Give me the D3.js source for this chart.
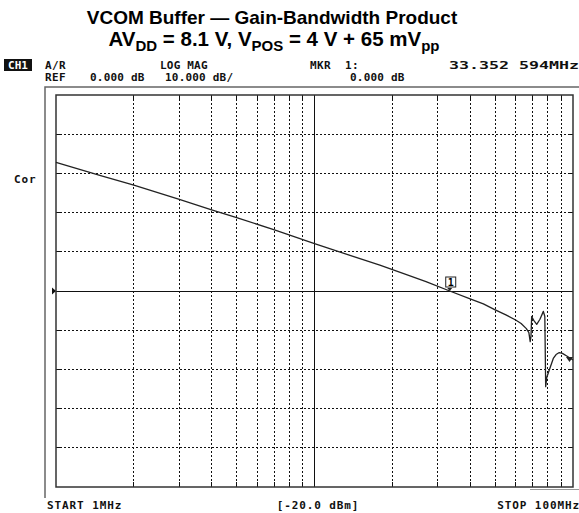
<!DOCTYPE html>
<html>
<head>
<meta charset="utf-8">
<script src="https://cdn.jsdelivr.net/npm/d3@7"></script>
<style>
  html, body { margin: 0; padding: 0; background: #fff; }
  svg { display: block; }
</style>
</head>
<body>
<svg id="chart" width="579" height="513"></svg>
<script>
// Frequency sweep of the VCOM buffer, 1 MHz to 100 MHz (log), gain in dB
const freqMHz = [1, 1.5, 2, 3, 4, 5, 7, 10, 14, 17.9, 22, 27, 33.35, 40, 45, 50, 55, 60, 63, 66, 67.5,
                 68.3, 68.8, 69.2, 70.5, 72.4, 74.5, 76.8, 77.8, 78.4, 79.2, 80.9, 83.9, 86, 88.5, 91, 94.6, 100];
const gainDb  = [32.8, 29.4, 27.0, 23.4, 20.7, 18.7, 15.6, 12.1, 8.9, 6.6, 4.5, 2.4, 0, -2.0, -3.3, -4.8, -6.1, -7.4, -8.3, -9.6, -10.6,
                 -12.9, -11.5, -6.5, -7.5, -8.5, -7.2, -5.2, -6.5, -24.4, -22, -20.2, -17.2, -16.2, -15.7, -15.9, -16.6, -17.6];

const xTickMHz = [2, 3, 4, 5, 6, 7, 8, 9, 10, 20, 30, 40, 50, 60, 70, 80, 90];
const yTickDb = [-40, -30, -20, -10, 0, 10, 20, 30, 40];
const markerMHz = 33.352594;
const markerDb = 0;

const svg = d3.select("#chart");
const L = 56, R = 573, T = 95, B = 487;

const x = d3.scaleLog().domain([1, 100]).range([L, R]);
const y = d3.scaleLinear().domain([-50, 50]).range([B, T]);

// Titles
svg.append("text")
  .attr("x", 272).attr("y", 24)
  .attr("text-anchor", "middle")
  .attr("font-family", "Liberation Sans, Arial, sans-serif")
  .attr("font-weight", "bold").attr("font-size", 19)
  .text("VCOM Buffer \u2014 Gain-Bandwidth Product");

const sub = svg.append("text")
  .attr("x", 274).attr("y", 46)
  .attr("text-anchor", "middle")
  .attr("font-family", "Liberation Sans, Arial, sans-serif")
  .attr("font-weight", "bold").attr("font-size", 20.5);
const subParts = [["AV", 0], ["DD", 1], [" = 8.1 V, V", 0], ["POS", 1], [" = 4 V + 65 mV", 0], ["pp", 1]];
let lastSub = false;
subParts.forEach(([t, s]) => {
  let dy = 0;
  if (s && !lastSub) dy = 5;
  if (!s && lastSub) dy = -5;
  sub.append("tspan")
    .attr("font-size", s ? 15 : 20.5)
    .attr("dy", dy)
    .text(t);
  lastSub = !!s;
});

// Instrument annotation text
const mono = "DejaVu Sans Mono, monospace";
function label(tx, px, py, anchor, spacing) {
  return svg.append("text").attr("x", px).attr("y", py)
    .attr("text-anchor", anchor || "start")
    .attr("font-family", mono).attr("font-weight", "bold")
    .attr("font-size", 11).attr("letter-spacing", spacing == null ? 0.9 : spacing)
    .attr("fill", "#111").text(tx);
}
svg.append("rect").attr("x", 4).attr("y", 59).attr("width", 28).attr("height", 12).attr("fill", "#111");
svg.append("text").attr("x", 18).attr("y", 69).attr("text-anchor", "middle")
  .attr("font-family", mono).attr("font-weight", "bold").attr("font-size", 11)
  .attr("fill", "#fff").text("CH1");
label("A/R", 45, 69, "start", 0.4);
label("LOG MAG", 160, 69, "start", 0.2);
label("MKR", 310, 69, "start", 0.4);
label("1:", 345, 69, "start", 0.4);
label("33.352 594MHz", 449, 69, "start", 0)
  .attr("textLength", 130).attr("lengthAdjust", "spacingAndGlyphs");
label("REF", 45, 81, "start", 0.4);
label("0.000 dB", 90, 81, "start", 0.2);
label("10.000 dB/", 165, 81, "start", 0.2);
label("0.000 dB", 350, 81, "start", 0.2);
label("Cor", 14, 183);
label("START 1MHz", 47, 509);
label("[-20.0 dBm]", 318, 509, "middle");
label("STOP 100MHz", 580, 509, "end");

// Outer frame
svg.append("path").attr("d", `M45,498 V87 H579`).attr("fill", "none")
  .attr("stroke", "#666").attr("stroke-width", 1.5);

// Grid
const grid = svg.append("g");
grid.selectAll("line.v").data(xTickMHz).join("line")
  .attr("x1", d => x(d)).attr("x2", d => x(d))
  .attr("y1", T).attr("y2", B)
  .attr("stroke", "#111").attr("stroke-width", 1)
  .attr("stroke-dasharray", d => d === 10 ? null : "2,2")
  .attr("shape-rendering", "crispEdges");
grid.selectAll("line.h").data(yTickDb).join("line")
  .attr("x1", L).attr("x2", R)
  .attr("y1", d => y(d)).attr("y2", d => y(d))
  .attr("stroke", "#111").attr("stroke-width", 1)
  .attr("stroke-dasharray", d => d === 0 ? null : "2,2")
  .attr("shape-rendering", "crispEdges");

// Edge ticks on grid lines
const tk = svg.append("g").attr("stroke", "#111").attr("shape-rendering", "crispEdges");
xTickMHz.forEach(d => {
  tk.append("line").attr("x1", x(d)).attr("x2", x(d)).attr("y1", T).attr("y2", T + 4);
  tk.append("line").attr("x1", x(d)).attr("x2", x(d)).attr("y1", B - 5).attr("y2", B);
});
yTickDb.forEach(d => {
  tk.append("line").attr("x1", L).attr("x2", L + 4).attr("y1", y(d)).attr("y2", y(d));
  tk.append("line").attr("x1", R - 4).attr("x2", R).attr("y1", y(d)).attr("y2", y(d));
});

// Inner plot frame
svg.append("rect").attr("x", L).attr("y", T).attr("width", R - L).attr("height", B - T)
  .attr("fill", "none").attr("stroke", "#333").attr("stroke-width", 1.5);
svg.append("line").attr("x1", 530).attr("x2", 579).attr("y1", 489.5).attr("y2", 489.5)
  .attr("stroke", "#999").attr("stroke-width", 1);

// Reference level pointer
svg.append("path").attr("d", `M${L - 4},${y(0) - 3.5} L${L},${y(0)} L${L - 4},${y(0) + 3.5} Z`)
  .attr("fill", "#111");

// Trace
const pts = freqMHz.map((f, i) => [f, gainDb[i]]);
svg.append("path").datum(pts)
  .attr("d", d3.line().x(d => x(d[0])).y(d => y(d[1])))
  .attr("fill", "none").attr("stroke", "#222").attr("stroke-width", 1.3)
  .attr("stroke-linejoin", "round");

// Marker 1
const mx = x(markerMHz), my = y(markerDb);
svg.append("path").attr("d", `M${mx - 2.5},${my - 3} L${mx + 2.5},${my - 3} L${mx},${my} Z`).attr("fill", "#222");
svg.append("rect").attr("x", mx - 4).attr("y", my - 14).attr("width", 10).attr("height", 10)
  .attr("fill", "#fff").attr("stroke", "#222").attr("stroke-width", 1);
svg.append("text").attr("x", mx + 1).attr("y", my - 5.5).attr("text-anchor", "middle")
  .attr("font-family", mono).attr("font-weight", "bold").attr("font-size", 10).text("1");

// End-of-trace pointer
const ex = x(100), ey = y(gainDb[gainDb.length - 1]);
svg.append("path").attr("d", `M${ex - 7},${ey - 3} L${ex},${ey - 3} L${ex - 3.5},${ey + 2} Z`).attr("fill", "#222");
</script>
</body>
</html>
